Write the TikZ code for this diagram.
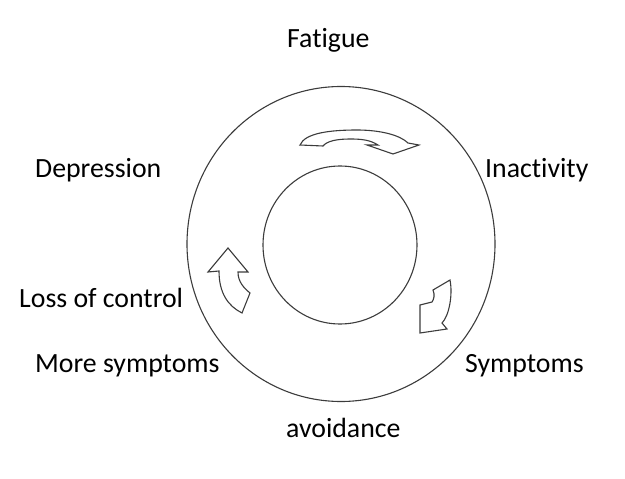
\documentclass[tikz,border=0pt]{standalone}
\usepackage{fontspec}
\setmainfont{Carlito}[Ligatures={NoCommon,NoRequired,NoContextual}]
\usepackage{tikz}
\definecolor{linegray}{RGB}{60,60,60}

\begin{document}
\begin{tikzpicture}[x=1pt,y=-1pt,
		ring/.style={draw=linegray,line width=1.1pt},
		bigarrow/.style={draw=linegray,fill=white,line width=1.1pt,line join=miter},
		stage/.style={anchor=base west,inner sep=0pt,font=\fontsize{27.8}{32}\selectfont}]
			\useasboundingbox (0,0) rectangle (625,479);
			\coordinate (c_outer) at (341,244);
			\coordinate (c_inner) at (340,245);
			\draw[ring] (c_outer) ellipse [x radius=154, y radius=157.5];
			\draw[ring] (c_inner) ellipse [x radius=77, y radius=79];
			% curved block arrows
			\draw[bigarrow] (300,145) .. controls (305,133) and (330,130) .. (357,130) .. controls (380,130) and (400,135) .. (408,143) -- (419,145) -- (393,154) -- (367,145) -- (378,145) .. controls (370,140) and (362,139) .. (350,139) .. controls (337,139) and (327,141) .. (323,146) -- cycle;
			\draw[bigarrow] (450,280) -- (433,290) .. controls (435,295) and (434,299) .. (432,302) -- (420,305) -- (420,333) -- (447,329) -- (442,323) .. controls (449,316) and (453,295) .. (450,280) -- cycle;
			\draw[bigarrow] (228,248) -- (248,272) -- (238,272) .. controls (238,282) and (244,288) .. (250,293) -- (242,313) .. controls (228,306) and (219,293) .. (219,271) -- (208,272) -- cycle;
			% labels
			\node[stage] (fatigue) at (287,48) {Fatigue};
			\node[stage] (inactivity) at (485,177) {Inactivity};
			\node[stage] (symptoms) at (465,372) {Symptoms};
			\node[stage] (avoidance) at (286,437) {avoidance};
			\node[stage] (more) at (35,372) {More symptoms};
			\node[stage] (loss) at (19,307) {Loss of control};
			\node[stage] (depression) at (35,177) {Depression};
		\end{tikzpicture}
\end{document}
